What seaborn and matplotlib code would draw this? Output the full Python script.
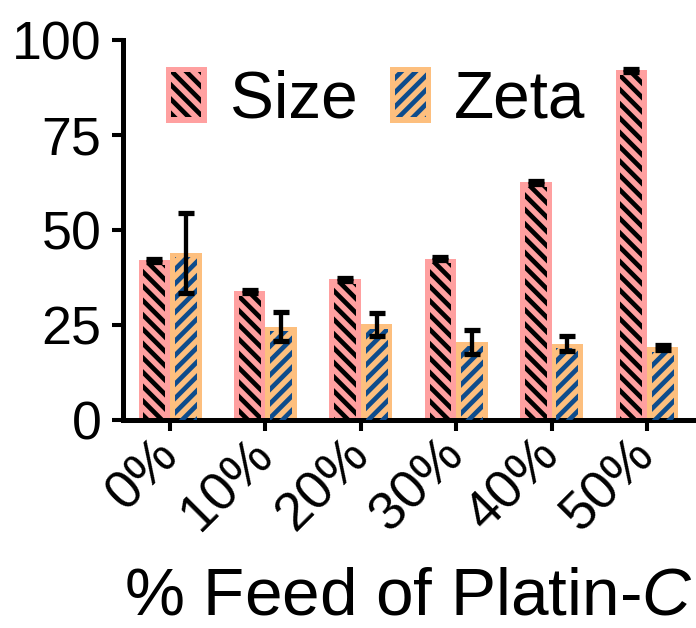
import matplotlib
matplotlib.use("Agg")
import matplotlib.pyplot as plt
import seaborn as sns
import pandas as pd
from matplotlib.patches import Rectangle
from matplotlib.container import BarContainer
from matplotlib.legend_handler import HandlerBase

feed = ["0%", "10%", "20%", "30%", "40%", "50%"]
size_mean = [42.1, 33.9, 37.1, 42.4, 62.5, 92.1]
size_err = [0.4, 0.4, 0.4, 0.4, 0.5, 0.4]
zeta_mean = [44.0, 24.6, 25.2, 20.6, 20.1, 19.1]
zeta_err = [10.5, 3.8, 3.0, 3.2, 1.9, 0.6]
series = ["Size", "Zeta"]
yticks = [0, 25, 50, 75, 100]

face_colors = ["#FFA0A0", "#FDBF7E"]
hatch_colors = ["#000000", "#0E4C8C"]
hatches = ["\\\\", "//"]

DPI = 86
sns.set_style("ticks")
plt.rcParams["font.family"] = ["Liberation Sans", "DejaVu Sans"]
plt.rcParams["mathtext.fontset"] = "custom"
plt.rcParams["mathtext.rm"] = "Liberation Sans"
plt.rcParams["mathtext.it"] = "Liberation Sans:italic"
plt.rcParams["hatch.linewidth"] = 3.9
for key in ["text.color", "axes.labelcolor", "xtick.color", "ytick.color",
            "axes.edgecolor"]:
    plt.rcParams[key] = "black"

df = pd.DataFrame({
    "feed": feed * 2,
    "value": size_mean + zeta_mean,
    "series": [series[0]] * len(feed) + [series[1]] * len(feed),
})

fig = plt.figure(figsize=(697 / DPI, 628 / DPI), dpi=DPI)
ax = fig.add_axes([123 / 697, 208 / 628, 1 - 123 / 697, 380 / 628])

sns.barplot(data=df, x="feed", y="value", hue="series", order=feed,
            hue_order=series, palette=face_colors, width=0.66, gap=0,
            errorbar=None, saturation=1, legend=False, ax=ax,
            linewidth=0)

errs = [size_err, zeta_err]
means = [size_mean, zeta_mean]
bar_conts = [c for c in ax.containers if isinstance(c, BarContainer)]
for k, cont in enumerate(bar_conts):
    xs = []
    for p in cont.patches:
        x0, w, h = p.get_x(), p.get_width(), p.get_height()
        ins = 0.05
        top = 1.2
        r = Rectangle((x0 + ins, 0), w - 2 * ins, max(h - top, 0),
                      facecolor="none", edgecolor=hatch_colors[k],
                      hatch=hatches[k], linewidth=0, zorder=3)
        ax.add_patch(r)
        xs.append(x0 + w / 2)
    ax.errorbar(xs, means[k], yerr=errs[k], fmt="none", ecolor="black",
                elinewidth=3.6, capsize=6.8, capthick=4.4, zorder=6)

ax.set_xlim(-0.493, 5.524)
ax.set_ylim(0, 100)
ax.set_yticks(yticks)
ax.set_yticklabels([str(t) for t in yticks])
ax.set_ylabel("")

for s in ["top", "right"]:
    ax.spines[s].set_visible(False)
for s in ["left", "bottom"]:
    ax.spines[s].set_linewidth(4.2)
ax.tick_params(axis="both", direction="out", length=9.2, width=3.4,
               labelsize=45, color="black", labelcolor="black")
ax.tick_params(axis="y", pad=9)
ax.tick_params(axis="x", pad=13)
for lab in ax.get_xticklabels():
    lab.set_rotation(45)
    lab.set_ha("right")
    lab.set_va("center")
    lab.set_rotation_mode("anchor")

ax.set_xlabel(r"% Feed of Platin-$\it{C}$", fontsize=56.5)
ax.xaxis.set_label_coords(0.498, -0.513)
ax.xaxis.label.set_va("baseline")


class InsetHatchHandler(HandlerBase):
    def __init__(self, face, hcolor, hatch):
        super().__init__()
        self.face, self.hcolor, self.hatch = face, hcolor, hatch

    def create_artists(self, legend, orig_handle, xdescent, ydescent,
                       width, height, fontsize, trans):
        r1 = Rectangle((-xdescent, -ydescent), width, height,
                       facecolor=self.face, linewidth=0, transform=trans)
        ins = 0.13 * width
        r2 = Rectangle((-xdescent + ins, -ydescent + ins), width - 2 * ins,
                       height - 2 * ins, facecolor="none",
                       edgecolor=self.hcolor, hatch=self.hatch,
                       linewidth=0, transform=trans)
        return [r1, r2]


handles = [Rectangle((0, 0), 1, 1) for _ in series]
hmap = {h: InsetHatchHandler(face_colors[i], hatch_colors[i], hatches[i])
        for i, h in enumerate(handles)}
fig.legend(handles, series, handler_map=hmap, loc="center left",
           bbox_to_anchor=(166 / 697, 1 - 99 / 628), ncol=2, frameon=False,
           fontsize=55, handlelength=0.62, handleheight=0.93,
           handletextpad=0.35, columnspacing=0.5, borderpad=0,
           borderaxespad=0)

fig.savefig("out.png", dpi=DPI)
